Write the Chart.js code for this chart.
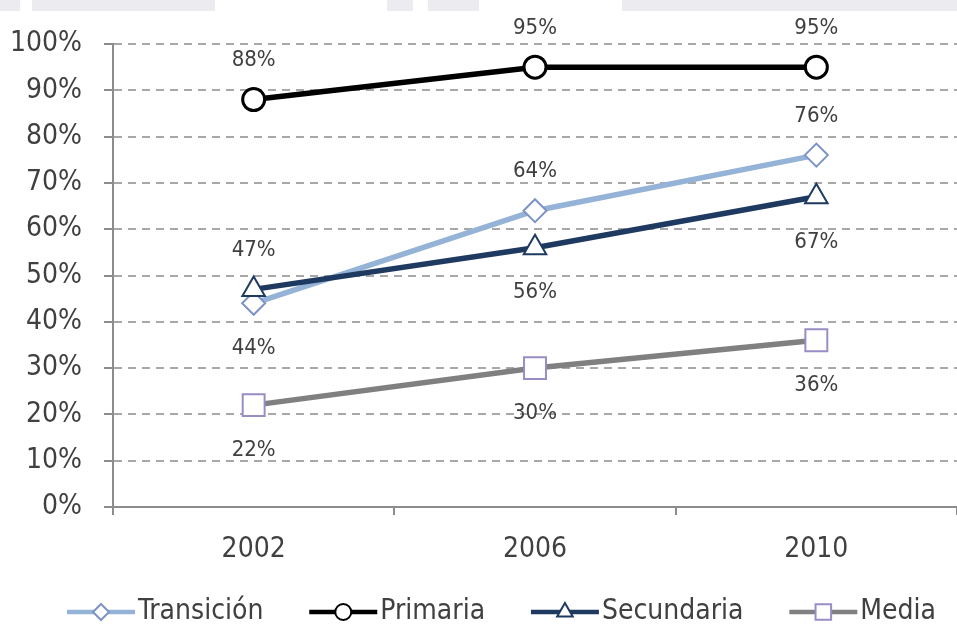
<!DOCTYPE html>
<html>
<head>
<meta charset="utf-8">
<script src="https://cdn.jsdelivr.net/npm/chart.js@4.4.1/dist/chart.umd.min.js"></script>
<style>
  html, body { margin: 0; padding: 0; background: #fff; }
  #wrap { position: relative; width: 957px; height: 628px; overflow: hidden; }
  .band { position: absolute; top: 0; height: 11px; background: #ebebf0; }
  #c { position: absolute; left: 0; top: 0; }
</style>
</head>
<body>
<div id="wrap">
  <div class="band" style="left:0;width:20px"></div>
  <div class="band" style="left:32px;width:183px"></div>
  <div class="band" style="left:387px;width:26px"></div>
  <div class="band" style="left:428px;width:51px"></div>
  <div class="band" style="left:622px;width:335px"></div>
  <canvas id="c" width="957" height="628"></canvas>
</div>
<script>
// Coverage rates by education level (percent)
const years = ['2002', '2006', '2010'];
const transicion = [44, 64, 76];
const primaria = [88, 95, 95];
const secundaria = [47, 56, 67];
const media = [22, 30, 36];
const yTickValues = [0, 10, 20, 30, 40, 50, 60, 70, 80, 90, 100];

const FONT = "'DejaVu Sans Condensed', 'Liberation Sans Narrow', sans-serif";
const TEXT = '#404040';
const AXIS = '#8c8c8c';

// value label placement per point
const labelSide = {
  'Transición': ['below', 'above', 'above'],
  'Primaria':   ['above', 'above', 'above'],
  'Secundaria': ['above', 'below', 'below'],
  'Media':      ['below', 'below', 'below']
};

function drawMarker(ctx, style, x, y, r) {
  ctx.beginPath();
  if (style === 'circle') {
    ctx.arc(x, y, r, 0, Math.PI * 2);
  } else if (style === 'rectRot') {
    ctx.moveTo(x, y - r); ctx.lineTo(x + r, y); ctx.lineTo(x, y + r); ctx.lineTo(x - r, y);
    ctx.closePath();
  } else if (style === 'triangle') {
    const h = r * 1.5, w = r * Math.sqrt(3);
    ctx.moveTo(x, y - r); ctx.lineTo(x + w / 2, y + h - r); ctx.lineTo(x - w / 2, y + h - r);
    ctx.closePath();
  } else {
    const s = r * Math.SQRT1_2;
    ctx.rect(x - s, y - s, 2 * s, 2 * s);
  }
  ctx.fill();
  ctx.stroke();
}

const valueLabels = {
  id: 'valueLabels',
  afterDatasetsDraw(chart) {
    const ctx = chart.ctx;
    ctx.save();
    ctx.font = '22px ' + FONT;
    ctx.fillStyle = TEXT;
    ctx.textAlign = 'center';
    ctx.textBaseline = 'middle';
    chart.data.datasets.forEach((ds, i) => {
      const meta = chart.getDatasetMeta(i);
      const sides = labelSide[ds.label];
      meta.data.forEach((pt, j) => {
        const dy = sides[j] === 'above' ? -39 : 45;
        ctx.fillText(ds.data[j] + '%', pt.x, pt.y + dy);
      });
    });
    ctx.restore();
  }
};

const lineLegend = {
  id: 'lineLegend',
  afterDraw(chart) {
    const ctx = chart.ctx;
    const icon = 68, gapText = 3, cy = 612, left = 67, right = 936;
    ctx.save();
    ctx.font = '28px ' + FONT;
    const items = chart.data.datasets.map(ds => ({ ds, w: icon + gapText + ctx.measureText(ds.label).width }));
    const used = items.reduce((s, it) => s + it.w, 0);
    const gapItem = (right - left - used) / (items.length - 1);
    let x = left;
    items.forEach(({ ds, w }) => {
      ctx.strokeStyle = ds.borderColor;
      ctx.lineWidth = 4.5;
      ctx.beginPath();
      ctx.moveTo(x, cy); ctx.lineTo(x + icon, cy);
      ctx.stroke();
      ctx.fillStyle = '#fff';
      ctx.strokeStyle = ds.pointBorderColor;
      ctx.lineWidth = 2;
      drawMarker(ctx, ds.pointStyle, x + icon / 2, cy, ds.legendRadius);
      ctx.fillStyle = TEXT;
      ctx.textAlign = 'left';
      ctx.textBaseline = 'middle';
      ctx.fillText(ds.label, x + icon + gapText, cy);
      x += w + gapItem;
    });
    ctx.restore();
  }
};

new Chart(document.getElementById('c'), {
  type: 'line',
  data: {
    labels: years,
    datasets: [
      { label: 'Transición', data: transicion, order: 4,
        borderColor: '#95b3d7', borderWidth: 5.5,
        pointStyle: 'rectRot', pointRadius: 11.5, pointHoverRadius: 11.5, legendRadius: 8,
        pointBackgroundColor: '#fff', pointBorderColor: '#7d93c8', pointBorderWidth: 2 },
      { label: 'Primaria', data: primaria, order: 3,
        borderColor: '#000000', borderWidth: 5.5,
        pointStyle: 'circle', pointRadius: 11, pointHoverRadius: 11, legendRadius: 8,
        pointBackgroundColor: '#fff', pointBorderColor: '#000000', pointBorderWidth: 3 },
      { label: 'Secundaria', data: secundaria, order: 2,
        borderColor: '#1f3a60', borderWidth: 5.5,
        pointStyle: 'triangle', pointRadius: 13, pointHoverRadius: 13, legendRadius: 9,
        pointBackgroundColor: '#fff', pointBorderColor: '#1f3a60', pointBorderWidth: 2 },
      { label: 'Media', data: media, order: 1,
        borderColor: '#808080', borderWidth: 5.5,
        pointStyle: 'rect', pointRadius: 15.5, pointHoverRadius: 15.5, legendRadius: 11,
        pointBackgroundColor: '#fff', pointBorderColor: '#9a8cc4', pointBorderWidth: 2 }
    ]
  },
  options: {
    responsive: false,
    animation: false,
    devicePixelRatio: 1,
    layout: { autoPadding: false, padding: { top: 44, right: 0, bottom: 60, left: 0 } },
    plugins: { legend: { display: false }, tooltip: { enabled: false } },
    elements: { line: { tension: 0 } },
    scales: {
      x: {
        type: 'category',
        offset: true,
        afterFit(scale) { scale.height = 61; scale.paddingLeft = 0; scale.paddingRight = 0; },
        grid: { offset: true, drawOnChartArea: false, drawTicks: true, tickLength: 8,
                color: AXIS, lineWidth: 2 },
        border: { display: true, color: AXIS, width: 2 },
        ticks: { color: TEXT, font: { family: FONT, size: 28 }, padding: 18 }
      },
      y: {
        min: 0, max: 100,
        afterFit(scale) { scale.width = 113; },
        afterBuildTicks(scale) { scale.ticks = yTickValues.map(v => ({ value: v })); },
        grid: { color: '#a8a8a8', lineWidth: 2, tickLength: 9, tickColor: AXIS, tickWidth: 2,
                tickBorderDash: [] },
        border: { display: true, color: AXIS, width: 2, dash: [8, 6] },
        ticks: { color: TEXT, font: { family: FONT, size: 28 }, padding: 22,
                 callback: v => v + '%' }
      }
    }
  },
  plugins: [valueLabels, lineLegend]
});
</script>
</body>
</html>
